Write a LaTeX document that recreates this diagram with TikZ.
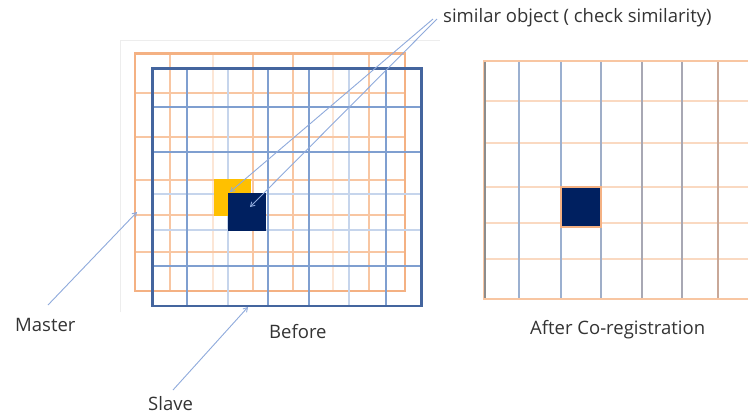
\documentclass[tikz,border=0pt]{standalone}
\usepackage{fontspec}
\setmainfont{Open Sans}
\usetikzlibrary{arrows.meta}
\definecolor{orgB}{HTML}{F4B183}
\definecolor{orgM}{HTML}{F8C6A2}
\definecolor{orgF}{HTML}{FCE6D6}
\definecolor{bluB}{HTML}{44659E}
\definecolor{bluM}{HTML}{7F9FD0}
\definecolor{bluF}{HTML}{C6D5EC}
\definecolor{ylw}{HTML}{FFC000}
\definecolor{navy}{HTML}{002060}
\definecolor{arr}{HTML}{8FAADC}
\definecolor{txt}{HTML}{333333}
\definecolor{frm}{HTML}{EDEDED}
\definecolor{grA}{HTML}{8C8C8C}
\definecolor{grB}{HTML}{9BB0D0}
\definecolor{grC}{HTML}{A8A8B4}
\definecolor{grD}{HTML}{C9A898}
\tikzset{
  lbl/.style={font=\fontsize{18.5}{22}\selectfont, text=txt, inner sep=0pt, anchor=west},
  pointer/.style={draw=arr, line width=0.9pt, -{Straight Barb[length=4pt,width=5pt]}},
  sqr/.style={inner sep=0pt, outer sep=0pt, minimum width=#1, minimum height=#1, anchor=north west},
}
\begin{document}
\begin{tikzpicture}[x=1pt,y=-1pt]
\useasboundingbox[fill=white] (0,0) rectangle (748,416);

% faint frame
\draw[frm, line width=0.8pt] (120,312) -- (120,40) -- (440,40);

% ---- Before: master (orange) grid
\foreach \x in {213,333} \draw[orgF, line width=2pt] (\x,53.3) -- (\x,291);
\foreach \x in {170,253,293,369} \draw[orgM, line width=2pt] (\x,53.3) -- (\x,291);
\foreach \y in {92.7,137.3,180,215,251.5} \draw[orgM, line width=2pt] (135,\y) -- (405,\y);
\draw[orgB, line width=2.8pt] (135,53.3) rectangle (405,291);

% ---- Before: slave (blue) grid
\foreach \x in {228,349} \draw[bluF, line width=2pt] (\x,68.3) -- (\x,306);
\foreach \y in {194,230} \draw[bluF, line width=2pt] (152.3,\y) -- (421.7,\y);
\foreach \x in {186.7,268.3,308.5,385.5} \draw[bluM, line width=2pt] (\x,68.3) -- (\x,306);
\foreach \y in {107.3,151.7,265.5} \draw[bluM, line width=2pt] (152.3,\y) -- (421.7,\y);
\draw[bluB, line width=2.8pt] (152.3,68.3) rectangle (421.7,306);

% objects
\node[sqr=37pt, fill=ylw] (yobj) at (214,179) {};
\node[sqr=38pt, fill=navy] (nobj) at (228,193) {};

% ---- After grid
\foreach \y in {101,143.3,186.7,223.3,259.3} \draw[orgF!60!orgM, line width=2pt] (484,\y) -- (748,\y);
\draw[grB, line width=2pt] (519.3,61) -- (519.3,299);
\draw[grB, line width=2pt] (561,61) -- (561,299);
\draw[grB!70!grC, line width=2pt] (601.3,61) -- (601.3,299);
\draw[grC, line width=2pt] (641.7,61) -- (641.7,299);
\draw[grC, line width=2pt] (681.7,61) -- (681.7,299);
\draw[grD, line width=2pt] (717.7,61) -- (717.7,299);
\draw[orgM, line width=2.6pt] (748,61) -- (484,61) -- (484,299) -- (748,299);
\draw[grA, line width=1.2pt] (485,62) -- (485,298);
\node[sqr=40pt, fill=navy, draw=orgB, line width=2.4pt] (aobj) at (561,186.7) {};

% ---- labels
\node[lbl] (sim) at (443,18) {similar object ( check similarity)};
\node[lbl] (mas) at (15,325) {Master};
\node[lbl] (bef) at (269,332) {Before};
\node[lbl] (aft) at (530,330) {After Co-registration};
\node[lbl] (slv) at (148,404) {Slave};

% ---- pointers
\coordinate (simA) at (433,19);
\coordinate (simB) at (437,19);
\coordinate (yTip) at (230,192);
\coordinate (nTip) at (250,207);
\coordinate (masA) at (48,305);
\coordinate (masT) at (137,212);
\coordinate (slvA) at (173,390);
\coordinate (slvT) at (248,307);
\draw[pointer] (simA) -- (yTip);
\draw[pointer] (simB) -- (nTip);
\draw[pointer] (masA) -- (masT);
\draw[pointer] (slvA) -- (slvT);
\end{tikzpicture}
\end{document}
